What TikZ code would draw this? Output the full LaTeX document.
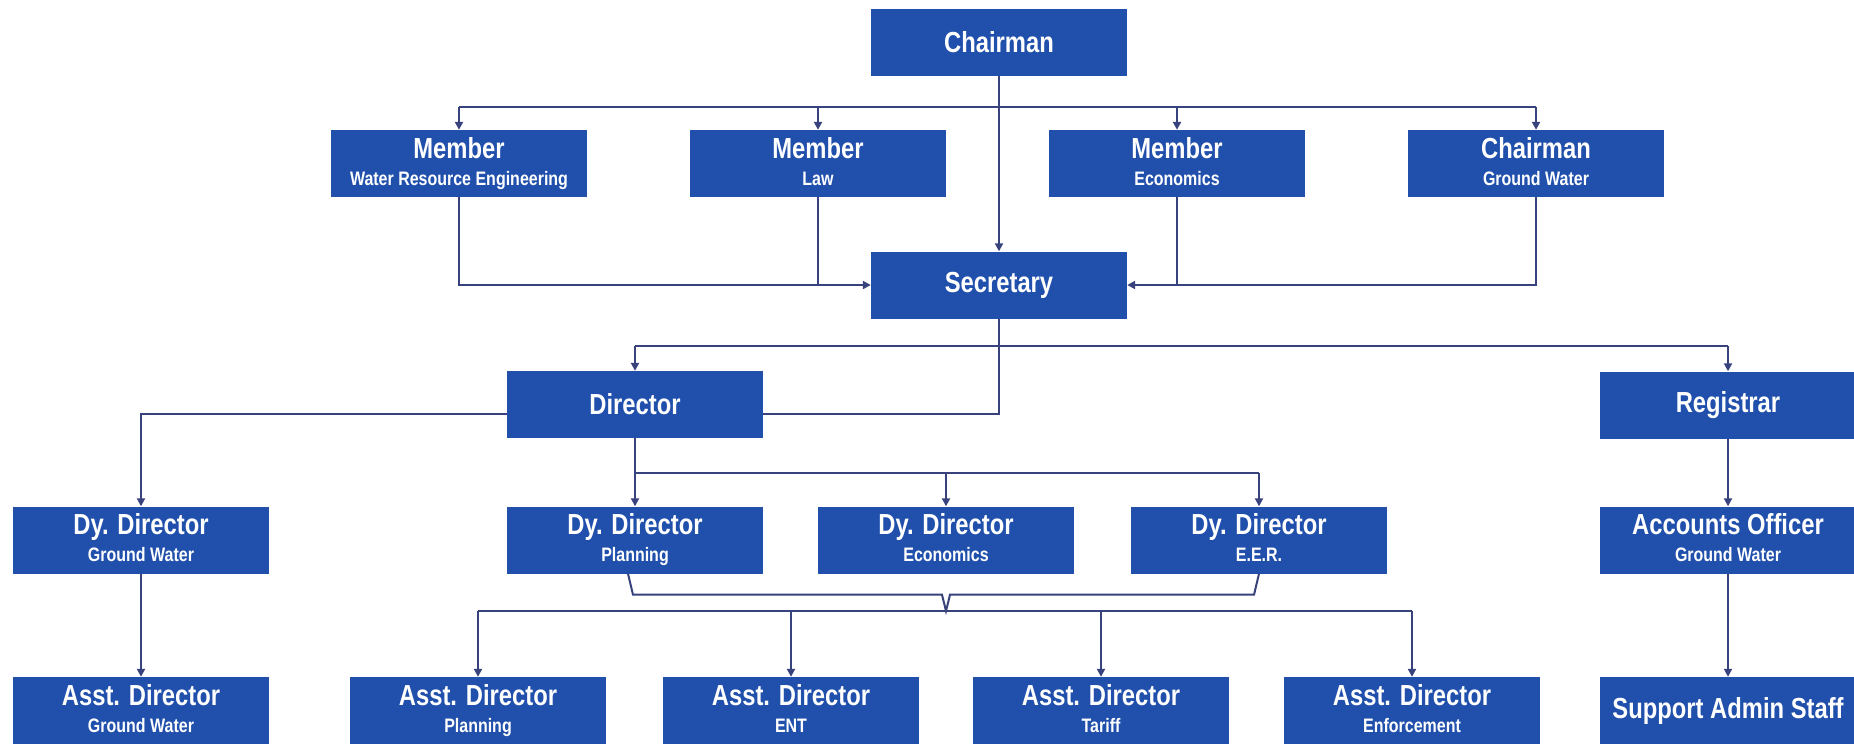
\documentclass[tikz,border=0pt]{standalone}
\usepackage{fontspec}
\newfontfamily\narrowsans[FakeStretch=0.82]{Liberation Sans}
\usetikzlibrary{arrows.meta,calc}

\definecolor{boxblue}{RGB}{32,80,172}
\definecolor{linkblue}{RGB}{56,66,124}
\newcommand\headtxt{\fontsize{29}{27}\selectfont}
\newcommand\subtxt{\fontsize{19.5}{27}\selectfont}
% title line over a subtitle line, with even line depths
\newcommand\twoline[2]{{\headtxt #1}\\#2\vphantom{Ag}}

\tikzset{
  orgbox/.style={rectangle, fill=boxblue, text=white, minimum width=256pt,
    minimum height=67pt, inner sep=0pt, align=center,
    font=\narrowsans\bfseries\subtxt},
  link/.style={draw=linkblue, line width=2pt},
  arr/.style={link, -{Triangle[length=8pt,width=8pt]}}
}

\begin{document}
\begin{tikzpicture}[x=1pt, y=-1pt]
\fill[white] (0,0) rectangle (1854,745);
\useasboundingbox (0,0) rectangle (1854,745);

% board
\node[orgbox] (chair) at (999,42.5) {\headtxt Chairman};
\node[orgbox] (mWRE) at (459,163.5) {\twoline{Member}{Water Resource Engineering}};
\node[orgbox] (mLaw) at (818,163.5) {\twoline{Member}{Law}};
\node[orgbox] (mEcon) at (1177,163.5) {\twoline{Member}{Economics}};
\node[orgbox] (cGW) at (1536,163.5) {\twoline{Chairman}{Ground Water}};
\node[orgbox] (sec) at (999,285) {\headtxt Secretary};

% second level
\node[orgbox] (dir) at (635,404.5) {\headtxt Director};
\node[orgbox] (reg) at (1728,405) {\headtxt Registrar};

% deputies
\node[orgbox] (dyGW) at (141,540) {\twoline{Dy. Director}{Ground Water}};
\node[orgbox] (dyPlan) at (635,540) {\twoline{Dy. Director}{Planning}};
\node[orgbox] (dyEcon) at (946,540) {\twoline{Dy. Director}{Economics}};
\node[orgbox] (dyEER) at (1259,540) {\twoline{Dy. Director}{E.E.R.}};
\node[orgbox] (acc) at (1728,540) {\twoline{Accounts Officer}{Ground Water}};

% assistants
\node[orgbox] (aGW) at (141,710.5) {\twoline{Asst. Director}{Ground Water}};
\node[orgbox] (aPlan) at (478,710.5) {\twoline{Asst. Director}{Planning}};
\node[orgbox] (aENT) at (791,710.5) {\twoline{Asst. Director}{ENT}};
\node[orgbox] (aTar) at (1101,710.5) {\twoline{Asst. Director}{Tariff}};
\node[orgbox] (aEnf) at (1412,710.5) {\twoline{Asst. Director}{Enforcement}};
\node[orgbox] (sup) at (1728,710.5) {\headtxt Support Admin Staff};

% bus levels
\coordinate (busA) at (999,107);
\coordinate (busB) at (999,346);
\coordinate (busC) at (999,414);
\coordinate (busD) at (635,473);
\coordinate (busE) at (946,611);

% chairman to members and secretary
\draw[arr] (chair.south) -- (sec.north);
\draw[link] (busA -| mWRE) -- (busA -| cGW);
\foreach \m in {mWRE,mLaw,mEcon,cGW}
  \draw[arr] (busA -| \m) -- (\m.north);

% members report to secretary
\draw[arr] (mWRE.south) |- (sec.west);
\draw[link] (mLaw.south) -- (mLaw.south |- sec.west);
\draw[arr] (cGW.south) |- (sec.east);
\draw[link] (mEcon.south) -- (mEcon.south |- sec.east);

% secretary to director and registrar
\draw[link] (busB -| dir) -- (busB -| reg);
\draw[arr] (busB -| dir) -- (dir.north);
\draw[arr] (busB -| reg) -- (reg.north);
\draw[link] (sec.south) -- (busC) -- (busC -| dir.east);
\draw[arr] (busC -| dir.west) -| (dyGW.north);

% director to deputies
\draw[arr] (dir.south) -- (dyPlan.north);
\draw[link] (busD) -- (busD -| dyEER);
\draw[arr] (busD -| dyEcon) -- (dyEcon.north);
\draw[arr] (busD -| dyEER) -- (dyEER.north);

% deputies bracket to assistants
\draw[link] ($(dyPlan.south)+(-7,0)$) -- ($(dyPlan.south)+(-2,21)$)
  -- ($(dyEcon.south)+(-4,21)$) -- (busE) -- ($(dyEcon.south)+(4,21)$)
  -- ($(dyEER.south)+(-5,21)$) -- (dyEER.south);
\draw[link] (busE -| aPlan) -- (busE -| aEnf);
\foreach \a in {aPlan,aENT,aTar,aEnf}
  \draw[arr] (busE -| \a) -- (\a.north);

% single chains
\draw[arr] (dyGW.south) -- (aGW.north);
\draw[arr] (reg.south) -- (acc.north);
\draw[arr] (acc.south) -- (sup.north);
\end{tikzpicture}
\end{document}
